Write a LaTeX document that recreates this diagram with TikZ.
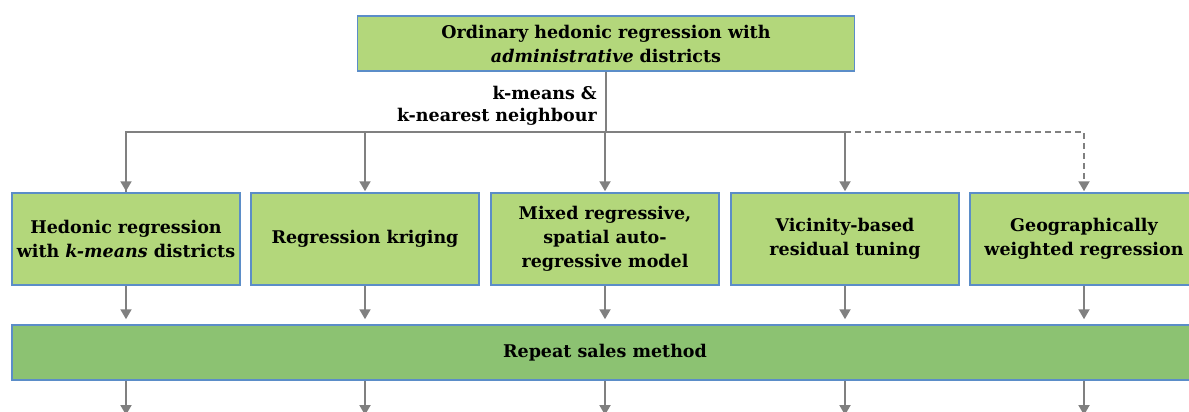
\documentclass[tikz,border=0pt]{standalone}
\usepackage{fontspec}
\setmainfont{DejaVu Serif}
\usetikzlibrary{arrows.meta}
\definecolor{boxgreen}{HTML}{B3D77B}
\definecolor{bargreen}{HTML}{8CC272}
\definecolor{boxblue}{HTML}{5B8DC8}
\definecolor{arrgray}{HTML}{808080}
\tikzset{
  mbox/.style={draw=boxblue, line width=1.5pt, fill=boxgreen, minimum width=228pt, minimum height=92pt, inner sep=0pt, align=center, font=\fontsize{17.5}{24}\selectfont\bfseries},
  conn/.style={draw=arrgray, line width=2pt, -{Triangle[width=11pt,length=10pt]}, shorten >=1pt},
  plain/.style={draw=arrgray, line width=2pt},
  dconn/.style={conn, dash pattern=on 6pt off 4pt},
}
\begin{document}
\begin{tikzpicture}[x=1pt,y=-1pt]
\useasboundingbox (0,0) rectangle (1189,412);
\clip (0,0) rectangle (1189,412);
\node[mbox, minimum width=497pt, minimum height=55pt] (top) at (606,43.5) {Ordinary hedonic regression with\\\textit{administrative} districts};
\node[mbox] (b1) at (126,239) {Hedonic regression\\with \textit{k-means} districts};
\node[mbox] (b2) at (365,239) {Regression kriging};
\node[mbox] (b3) at (605,239) {Mixed regressive,\\spatial auto-\\regressive model};
\node[mbox] (b4) at (845,239) {Vicinity-based\\residual tuning};
\node[mbox] (b5) at (1084,239) {Geographically\\weighted regression};
\node[mbox, fill=bargreen, minimum width=1188pt, minimum height=55pt, anchor=west] (bar) at (11,352.5) {};
\node[font=\fontsize{17.5}{24}\selectfont\bfseries] (bartext) at (605,352.5) {Repeat sales method};
\node[font=\fontsize{17.5}{22}\selectfont\bfseries, align=right, anchor=east, inner sep=0pt] (lab) at (597,106) {k-means \&\\k-nearest neighbour};
\coordinate (j) at (606,132);
\coordinate (jd) at (845,132);
\draw[plain] (top.south) -- (j);
\draw[plain] (j) -| (b1.north);
\draw[conn] (j -| b1.north) -- (b1.north);
\draw[conn] (j -| b2.north) -- (b2.north);
\draw[conn] (j -| b3.north) -- (b3.north);
\draw[plain] (j) -- (jd);
\draw[conn] (jd) -- (b4.north);
\draw[dconn] (jd) -| (b5.north);
\foreach \b in {b1,b2,b3,b4,b5}{
  \draw[conn, shorten >=5pt] (\b.south) -- (\b.south |- bar.north);
  \coordinate (e\b) at (\b.south |- 0,416);
  \draw[conn] (\b.south |- bar.south) -- (e\b);
}
\end{tikzpicture}
\end{document}
